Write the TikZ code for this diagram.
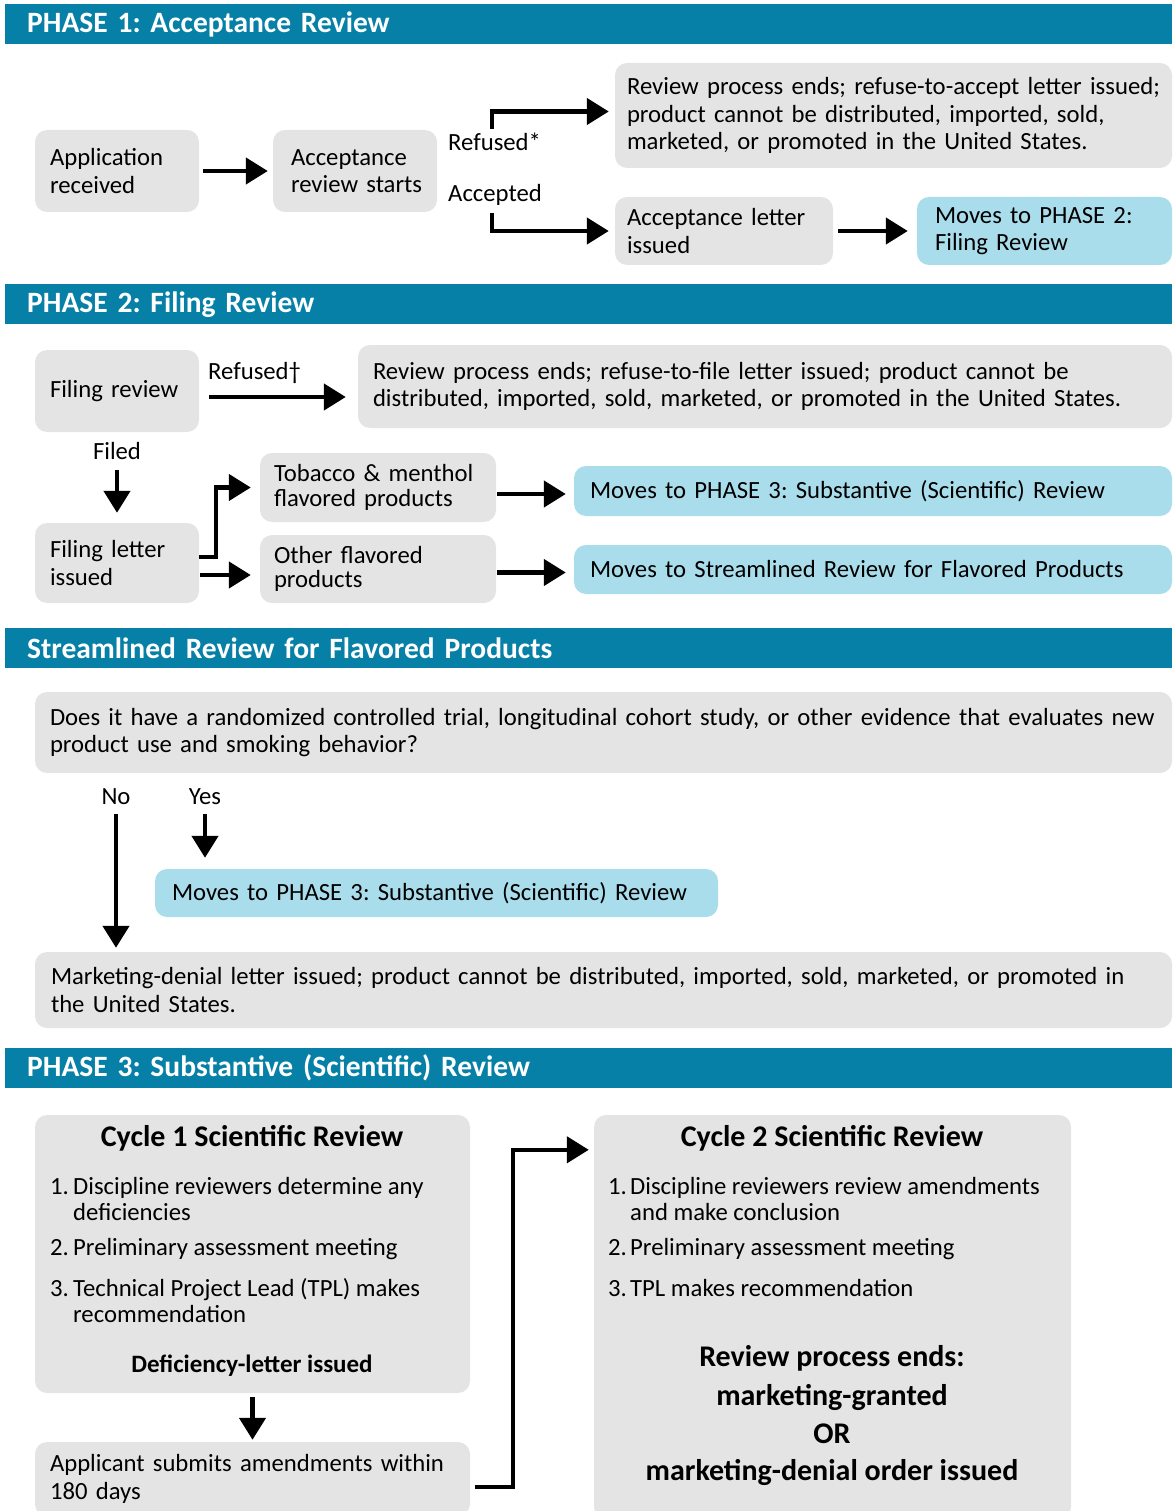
\documentclass[tikz,border=0pt]{standalone}
\usepackage{fontspec}
\setmainfont{Carlito}
\frenchspacing
\usetikzlibrary{arrows.meta,calc}
\definecolor{hdrblue}{HTML}{0780A8}
\definecolor{boxgray}{HTML}{E4E4E4}
\definecolor{boxblue}{HTML}{A9DDEB}
\newcommand{\nf}{\fontsize{24.7}{27.5}\selectfont}
\newcommand{\nfs}{\fontsize{24.7}{24.5}\selectfont}
\newcommand{\nfi}{\fontsize{24.7}{26}\selectfont}
\newcommand{\hf}{\fontsize{29.5}{31}\selectfont\bfseries}
\newcommand{\tf}{\fontsize{30}{32}\selectfont\bfseries}
\begin{document}
\begin{tikzpicture}[x=1pt,y=-1pt,
  hbar/.style={fill=hdrblue, anchor=north west, inner sep=0pt, minimum width=1167pt, minimum height=40pt, text width=1123pt, align=left, font=\hf, text=white},
  gbox/.style={fill=boxgray, rounded corners=12pt, inner sep=0pt, align=left, font=\nf},
  bbox/.style={gbox, fill=boxblue},
  lab/.style={font=\nf, inner sep=1pt},
  arr/.style={line width=4.5pt, -{Triangle[width=26pt,length=22pt]}}
]
\useasboundingbox (0,0) rectangle (1172,1511);

% ---------------- PHASE 1
\node[hbar] (h1) at (5,4) {PHASE 1: Acceptance Review};
\node[gbox, minimum width=164pt, minimum height=82pt, text width=134pt] (app) at (117,171) {\mbox{Application}\\\mbox{received}};
\node[gbox, minimum width=164pt, minimum height=82pt, text width=128pt] (acc) at (355,171) {\mbox{Acceptance}\\\mbox{review starts}};
\node[gbox, minimum width=557pt, minimum height=105pt, text width=533pt] (rev1) at (893.5,115.5) {\mbox{Review process ends; refuse-to-accept letter issued;}\\\mbox{product cannot be distributed, imported, sold,}\\\mbox{marketed, or promoted in the United States.}};
\node[gbox, minimum width=218pt, minimum height=68pt, text width=194pt] (accl) at (724,231) {\mbox{Acceptance letter}\\\mbox{issued}};
\node[bbox, minimum width=255pt, minimum height=68pt, text width=219pt] (mp2) at (1044.5,231) {\mbox{Moves to PHASE 2:}\\\mbox{Filing Review}};
\node[lab, anchor=west] (refl) at (447,142) {Refused*};
\node[lab, anchor=west] (accpl) at (447,195) {Accepted};
\coordinate (r0) at (492,129);
\coordinate (a0) at (492,213);
\draw[arr, shorten <=4pt, shorten >=5pt] (app) -- (acc);
\draw[arr, shorten >=6pt] (r0) |- ([yshift=4pt]rev1.west);
\draw[arr, shorten >=6pt] (a0) |- (accl.west);
\draw[arr, shorten <=5pt, shorten >=9pt] (accl) -- (mp2);

% ---------------- PHASE 2
\node[hbar] (h2) at (5,284) {PHASE 2: Filing Review};
\node[gbox, minimum width=164pt, minimum height=82pt, text width=134pt] (fr) at (117,391) {\mbox{Filing review}};
\node[gbox, minimum width=814pt, minimum height=83pt, text width=784pt] (rev2) at (765,386.5) {\mbox{Review process ends; refuse-to-file letter issued; product cannot be}\\\mbox{distributed, imported, sold, marketed, or promoted in the United States.}};
\node[lab, anchor=west] (ref2) at (207,373) {Refused\textdagger};
\node[lab] (filed) at (117,451) {Filed};
\node[gbox, minimum width=164pt, minimum height=80pt, text width=134pt] (fl) at (117,563) {\mbox{Filing letter}\\\mbox{issued}};
\node[gbox, font=\nfs, minimum width=236pt, minimum height=69pt, text width=208pt] (tob) at (378,487.5) {\mbox{Tobacco \& menthol}\\\mbox{flavored products}};
\node[gbox, font=\nfs, minimum width=236pt, minimum height=68pt, text width=208pt] (oth) at (378,569) {\mbox{Other flavored}\\\mbox{products}};
\node[bbox, minimum width=598pt, minimum height=50pt, text width=566pt] (mp3a) at (873,491) {\mbox{Moves to PHASE 3: Substantive (Scientific) Review}};
\node[bbox, minimum width=598pt, minimum height=49pt, text width=566pt] (msr) at (873,569.5) {\mbox{Moves to Streamlined Review for Flavored Products}};
\draw[arr, shorten <=10pt, shorten >=12pt] ([yshift=-6pt]fr.east) -- ([yshift=-6pt]fr.east -| rev2.west);
\draw[arr, shorten <=38pt, shorten >=10pt] (fr.south) -- (fl.north);
\draw[arr, shorten >=9pt] ([yshift=6pt]fl.east) -- ++(17,0) |- (tob.west);
\draw[arr, shorten <=1pt, shorten >=9pt] ([yshift=-12pt]fl.east) -- ([yshift=-12pt]fl.east -| oth.west);
\draw[arr, shorten <=1pt, shorten >=8pt] ([yshift=-3pt]tob.east |- mp3a.west) -- ([yshift=-3pt]mp3a.west);
\draw[arr, shorten <=1pt, shorten >=8pt] ([yshift=-3pt]oth.east |- msr.west) -- ([yshift=-3pt]msr.west);

% ---------------- Streamlined
\node[hbar] (h3) at (5,628) {Streamlined Review for Flavored Products};
\node[gbox, minimum width=1137pt, minimum height=81pt, text width=1107pt] (q) at (603.5,732.5) {\mbox{Does it have a randomized controlled trial, longitudinal cohort study, or other evidence that evaluates new}\\\mbox{product use and smoking behavior?}};
\node[lab] (no) at (116,797) {No};
\node[lab] (yes) at (205,797) {Yes};
\node[bbox, minimum width=563pt, minimum height=48pt, text width=529pt] (mp3b) at (436.5,893) {\mbox{Moves to PHASE 3: Substantive (Scientific) Review}};
\node[gbox, minimum width=1137pt, minimum height=76pt, text width=1105pt] (md) at (603.5,990) {\mbox{Marketing-denial letter issued; product cannot be distributed, imported, sold, marketed, or promoted in}\\\mbox{the United States.}};
\draw[arr, shorten <=8pt, shorten >=4pt] (no.south) -- (no.south |- md.north);
\draw[arr, shorten <=8pt, shorten >=11pt] (yes.south) -- (yes.south |- mp3b.north);

% ---------------- PHASE 3
\node[hbar] (h4) at (5,1048) {PHASE 3: Substantive (Scientific) Review};
\node[gbox, minimum width=435pt, minimum height=278pt] (c1) at (252.5,1254) {};
\node[gbox, minimum width=435pt, minimum height=74pt, text width=405pt] (app2) at (252.5,1479) {\mbox{Applicant submits amendments within}\\\mbox{180 days}};
\node[gbox, minimum width=477pt, minimum height=404pt] (c2) at (832.5,1317) {};

\node[font=\tf, inner sep=0pt] (c1t) at (252,1138) {Cycle 1 Scientific Review};
\node[lab, anchor=west, align=left, inner sep=0pt, font=\nfi] (c1i1) at (50,1199) {\makebox[23pt][l]{1.}Discipline reviewers determine any\\\hspace*{23pt}deficiencies};
\node[lab, anchor=west, inner sep=0pt] (c1i2) at (50,1249) {\makebox[23pt][l]{2.}Preliminary assessment meeting};
\node[lab, anchor=west, align=left, inner sep=0pt, font=\nfi] (c1i3) at (50,1301) {\makebox[23pt][l]{3.}Technical Project Lead (TPL) makes\\\hspace*{23pt}recommendation};
\node[font=\fontsize{25}{28}\selectfont\bfseries, inner sep=0pt] (c1d) at (252,1366) {Deficiency-letter issued};

\node[font=\tf, inner sep=0pt] (c2t) at (832,1138) {Cycle 2 Scientific Review};
\node[lab, anchor=west, align=left, inner sep=0pt, font=\nfi] (c2i1) at (608,1199) {\makebox[22pt][l]{1.}Discipline reviewers review amendments\\\hspace*{22pt}and make conclusion};
\node[lab, anchor=west, inner sep=0pt] (c2i2) at (608,1249) {\makebox[22pt][l]{2.}Preliminary assessment meeting};
\node[lab, anchor=west, inner sep=0pt] (c2i3) at (608,1288) {\makebox[22pt][l]{3.}TPL makes recommendation};
\node[font=\tf, inner sep=0pt] (c2e1) at (832,1358) {Review process ends:};
\node[font=\tf, inner sep=0pt] (c2e2) at (832,1397) {marketing-granted};
\node[font=\tf, inner sep=0pt] (c2e3) at (832,1434) {OR};
\node[font=\tf, inner sep=0pt] (c2e4) at (832,1472) {marketing-denial order issued};

\draw[arr, shorten <=4pt, shorten >=2pt] (c1.south) -- (app2.north);
\draw[arr, shorten <=5pt, shorten >=5pt] ([yshift=-8pt]app2.east) -- ++(43,0) |- ([yshift=-35pt]c2.north west);
\end{tikzpicture}
\end{document}
